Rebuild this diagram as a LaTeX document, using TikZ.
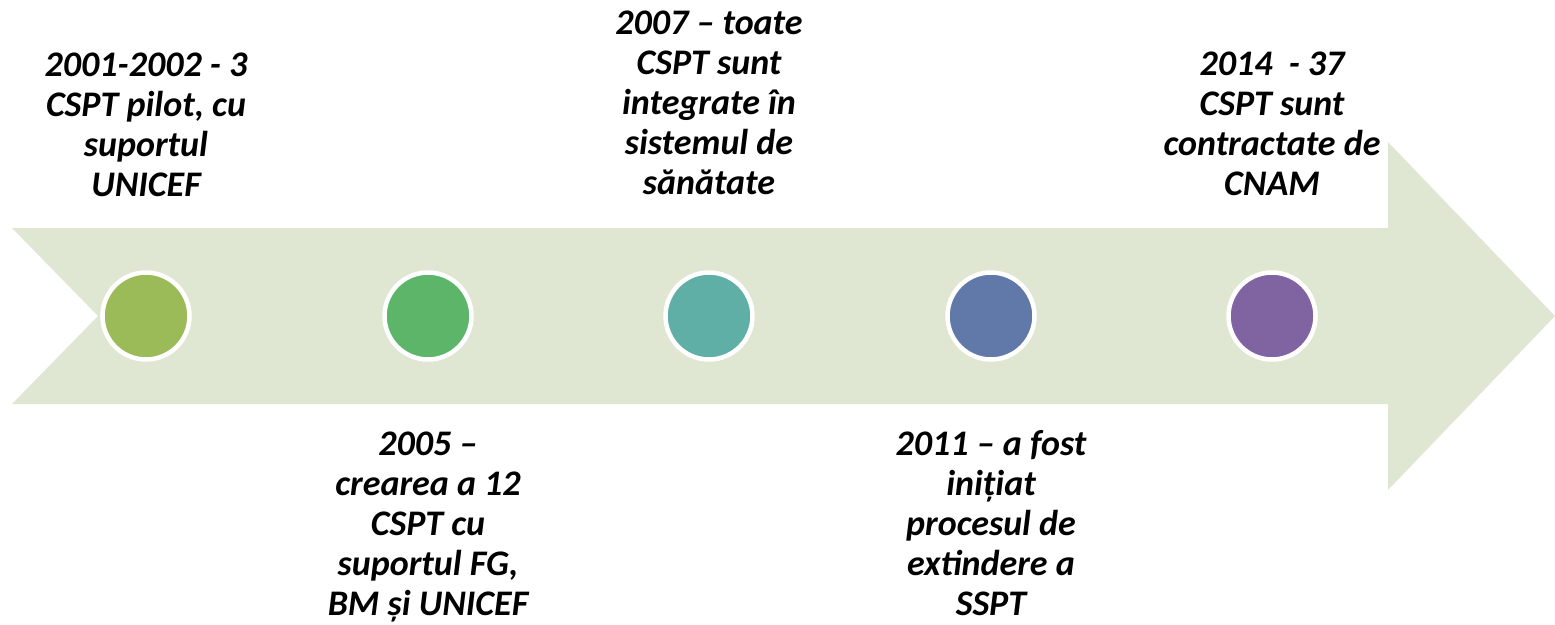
\documentclass[tikz,border=0pt]{standalone}
\usepackage{fontspec}
\setmainfont{Carlito}
\definecolor{arrowfill}{HTML}{DFE7D2}
\definecolor{cA}{HTML}{9BBB59}
\definecolor{cB}{HTML}{5DB56A}
\definecolor{cC}{HTML}{5FAFA6}
\definecolor{cD}{HTML}{6079A9}
\definecolor{cE}{HTML}{8064A2}
\newcommand\tlines[2]{\begin{tabular}[#1]{@{}c@{}}#2\end{tabular}}
\tikzset{
  dot/.style={circle, draw=white, line width=4.5pt, minimum size=87pt, inner sep=0pt},
  label/.style={anchor=base, inner sep=0pt, font=\fontsize{36}{40}\selectfont\bfseries\itshape}
}
\begin{document}
\begin{tikzpicture}[x=1pt,y=-1pt]
\useasboundingbox (0,0) rectangle (1555,624);
\fill[arrowfill] (12,228) -- (1388,228) -- (1388,142) -- (1555,316) -- (1388,490) -- (1388,404) -- (12,404) -- (98,316) -- cycle;
\node[dot, fill=cA] (c1) at (146,316) {};
\node[dot, fill=cB] (c2) at (428,316) {};
\node[dot, fill=cC] (c3) at (709,316) {};
\node[dot, fill=cD] (c4) at (991,316) {};
\node[dot, fill=cE] (c5) at (1272,316) {};
\node[label] (t1) at (146,196) {\tlines{b}{2001-2002 - 3\\CSPT pilot, cu\\suportul\\UNICEF}};
\node[label] (t3) at (709,194) {\tlines{b}{2007 – toate\\CSPT sunt\\integrate în\\sistemul de\\sănătate}};
\node[label] (t5) at (1272,195) {\tlines{b}{2014\ \ - 37\\CSPT sunt\\contractate de\\CNAM}};
\node[label] (t2) at (428,455) {\tlines{t}{2005 –\\crearea a 12\\CSPT cu\\suportul FG,\\BM și UNICEF}};
\node[label] (t4) at (991,455) {\tlines{t}{2011 – a fost\\inițiat\\procesul de\\extindere a\\SSPT}};
\end{tikzpicture}
\end{document}
